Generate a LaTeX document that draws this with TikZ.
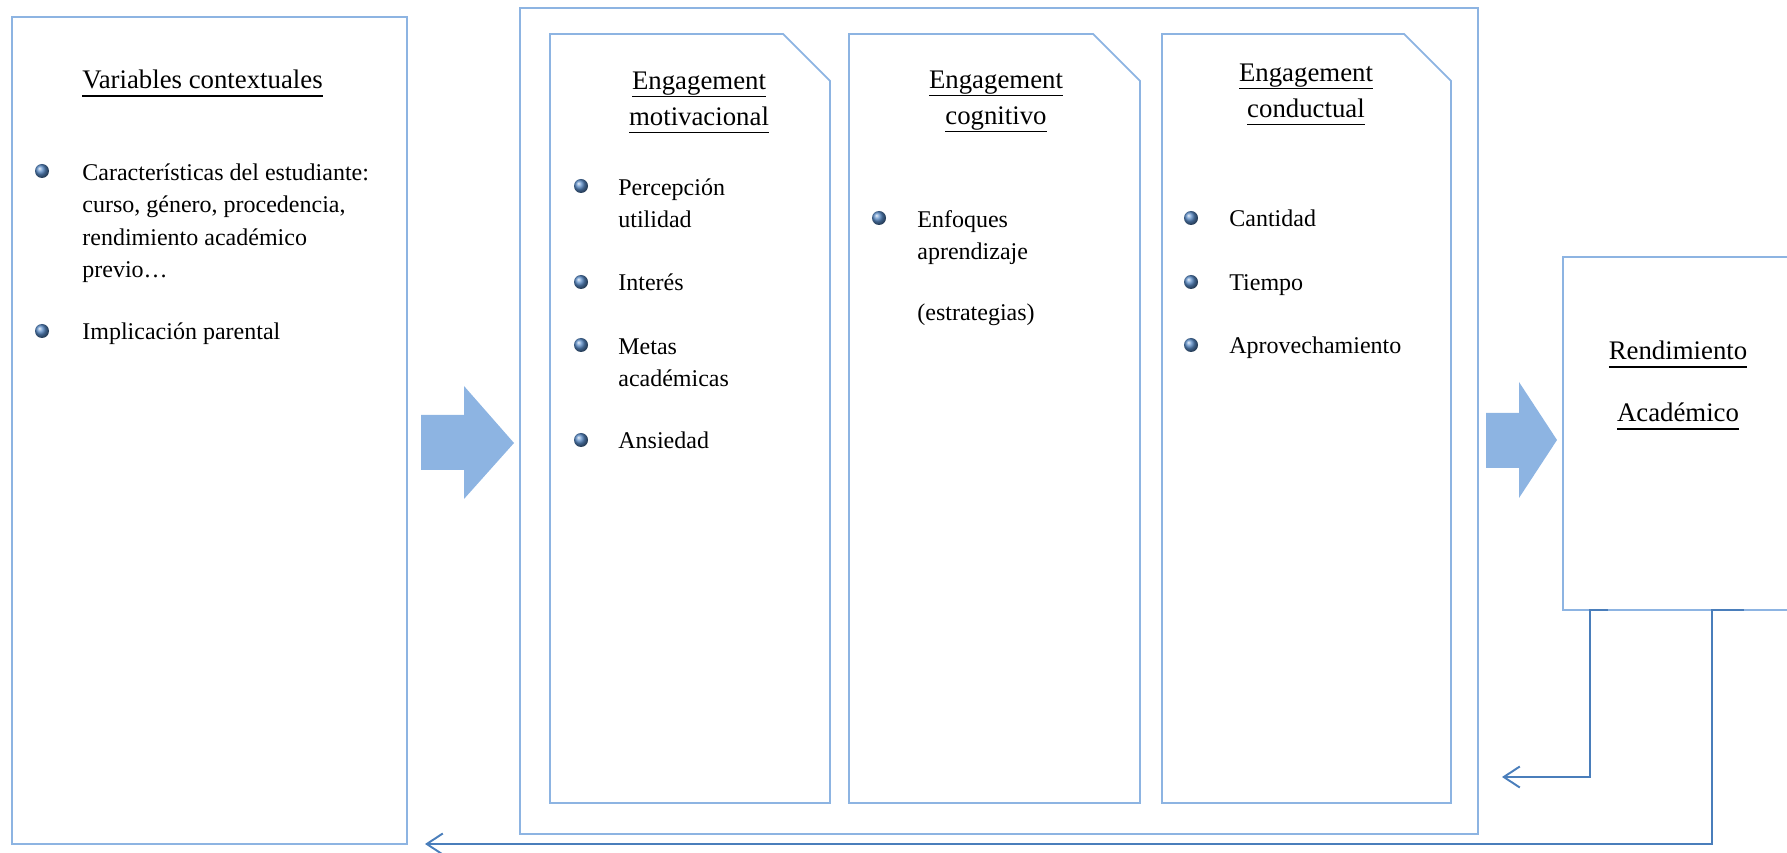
\documentclass[tikz,border=0pt]{standalone}
\usepackage{fontspec}
\setmainfont{Liberation Serif}
\usepackage{tikz}
\usetikzlibrary{positioning,arrows.meta,calc,fit}

\definecolor{boxline}{RGB}{141,180,226}
\definecolor{linkblue}{RGB}{74,126,187}
\definecolor{bulletblue}{RGB}{88,138,198}

% underline at a fixed depth, like a word processor does
\newcommand\undl[1]{\setbox0=\hbox{#1}\rlap{\rule[-4.6pt]{\wd0}{1pt}}\box0}

\begin{document}
\begin{tikzpicture}[x=0.2mm, y=-0.2mm,
    box/.style={draw=boxline, line width=1pt, inner sep=0pt, outer sep=0pt},
    panel/.style={draw=boxline, line width=1pt},
    blockarrow/.style={fill=boxline},
    feedback/.style={draw=linkblue, line width=1.1pt, -{Straight Barb[length=3.2mm,width=4.2mm]}},
    heading/.style={inner sep=0pt, align=center, font=\fontsize{15.25}{20.5}\selectfont},
    entry/.style={inner sep=0pt, align=left, font=\fontsize{13.66}{18.4}\selectfont}]
  \useasboundingbox (0,0) rectangle (1787,853);
  \clip (0,0) rectangle (1787,853);

  % boxes
  \node[box, fit={(12,17) (407,844)}] (ctx) {};
  \node[box, fit={(520,8) (1478,834)}] (eng) {};
  \node[box, fit={(1563,257) (1800,610)}] (rend) {};
  \foreach \l/\r in {550/830, 849/1140, 1162/1451}
    \draw[panel] (\l,803) |- (\r-47,34) -- (\r,81) |- cycle;

  % block arrows
  \fill[blockarrow] (421,415) -- (464,415) -- (464,386) -- (514,443)
    -- (464,499) -- (464,470) -- (421,470) -- cycle;
  \fill[blockarrow] (1486,413) -- (1519,413) -- (1519,382) -- (1557,440)
    -- (1519,498) -- (1519,468) -- (1486,468) -- cycle;

  % bullets
  \foreach \x/\y in {42/171, 42/331, 581/186, 581/282, 581/345, 581/440,
                     879/218, 1191/218, 1191/282, 1191/345}
    \shade[ball color=bulletblue] (\x,\y) circle (1.4mm);

  % contextual variables
  \node[heading, anchor=base west] (ctxh) at (82,89) {\undl{Variables contextuales}};
  \node[entry, anchor=north west] (est) at (82,157.4)
    {\strut Características del estudiante:\\curso, género, procedencia,\\rendimiento académico\\previo…};
  \node[entry, anchor=base west] (par) at (82,340) {Implicación parental};

  % motivational
  \node[heading, anchor=north] (moth) at (699,63.8) {\strut\undl{Engagement}\\\undl{motivacional}};
  \node[entry, anchor=north west] (util) at (618,172.4) {\strut Percepción\\utilidad};
  \node[entry, anchor=base west] (inte) at (618,291) {Interés};
  \node[entry, anchor=north west] (meta) at (618,331.4) {\strut Metas\\académicas};
  \node[entry, anchor=base west] (ansi) at (618,449) {Ansiedad};

  % cognitive
  \node[heading, anchor=north] (cogh) at (996,62.8) {\strut\undl{Engagement}\\\undl{cognitivo}};
  \node[entry, anchor=north west] (enf) at (917,204.4) {\strut Enfoques\\aprendizaje};
  \node[entry, anchor=base west] (estr) at (917,321) {(estrategias)};

  % behavioural
  \node[heading, anchor=north] (conh) at (1306,55.8) {\strut\undl{Engagement}\\\undl{conductual}};
  \node[entry, anchor=base west] (cant) at (1229,227) {Cantidad};
  \node[entry, anchor=base west] (tiem) at (1229,291) {Tiempo};
  \node[entry, anchor=base west] (apro) at (1229,354) {Aprovechamiento};

  % outcome
  \node[heading, anchor=base] (rendh) at (1678,360) {\undl{Rendimiento}};
  \node[heading, anchor=base] (acad) at (1678,422) {\undl{Académico}};

  % feedback loops
  \draw[feedback] ($(rend.south west)+(45,0)$) -- ++(-18,0) |- ($(eng.south east)+(24,-57)$);
  \draw[feedback] ($(rend.south west)+(181,0)$) -- ++(-32,0) |- ($(ctx.south east)+(18,0)$);
\end{tikzpicture}
\end{document}
